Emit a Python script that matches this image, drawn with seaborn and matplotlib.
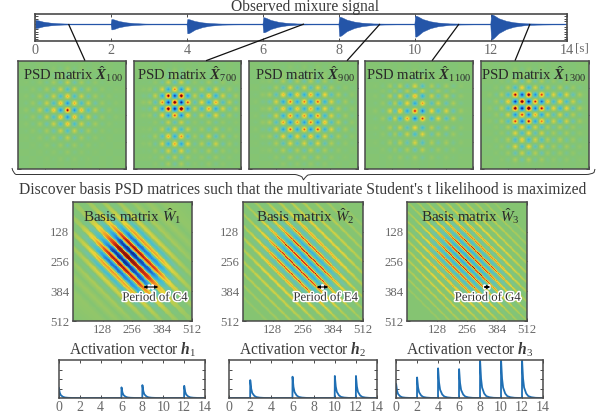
import numpy as np
import pandas as pd
import matplotlib
matplotlib.use("Agg")
import matplotlib.pyplot as plt
import matplotlib.patheffects as pe
from matplotlib.colors import LinearSegmentedColormap
from matplotlib.path import Path
from matplotlib.patches import PathPatch
import seaborn as sns

# ---------- data ----------
wave_onsets = [0, 2, 4, 6, 8, 10, 12]
wave_up = [0.39, 0.48, 0.48, 0.65, 0.70, 0.80, 0.93]
wave_down = [0.39, 0.52, 0.90, 0.80, 1.16, 1.22, 1.48]
wave_decay_t = [0, 0.03, 0.08, 0.2, 0.4, 0.6, 0.9, 1.2, 1.6, 1.98]
wave_decay_v = [1.0, 1.0, 0.9, 0.6, 0.33, 0.18, 0.07, 0.04, 0.02, 0.015]
wave_ticks = [-1.5, -1.25, -1.0, -0.75, -0.5, -0.25, 0.25, 0.5, 0.75]
time_ticks = [0, 2, 4, 6, 8, 10, 12, 14]

x100_pos = [0.073, 0.137, 0.201, 0.265, 0.329, 0.393, 0.457, 0.521, 0.585, 0.649, 0.713, 0.777, 0.841, 0.905]
x100_amp = [-0.06, 0.11, -0.2, 0.31, -0.44, 0.62, -0.84, 0.62, -0.44, 0.31, -0.2, 0.11, -0.06, 0.04]
x700_pos = [0.09, 0.15, 0.20, 0.265, 0.325, 0.385, 0.445, 0.505, 0.57, 0.635, 0.70, 0.765, 0.83, 0.89, 0.95]
x700_amp = [0.05, 0.1, -0.2, 0.5, -0.88, 0.95, -1.0, 0.6, -0.2, 0.3, -0.45, 0.45, -0.25, 0.15, -0.1]
x900_pos = [0.06, 0.125, 0.19, 0.25, 0.315, 0.38, 0.445, 0.51, 0.57, 0.635, 0.70, 0.76, 0.825, 0.89, 0.95]
x900_amp = [0.03, -0.07, -0.18, 0.32, -0.6, 0.72, -0.6, 0.68, -0.72, 0.76, -0.52, 0.34, -0.2, 0.12, -0.06]
x1100_pos = [0.1, 0.17, 0.235, 0.28, 0.327, 0.394, 0.465, 0.535, 0.62, 0.68, 0.755, 0.82, 0.89]
x1100_amp = [-0.05, 0.1, -0.3, 0.25, -0.5, 0.55, -0.8, 0.75, -0.4, 0.35, -0.3, 0.2, -0.1]
x1300_pos = [0.08, 0.14, 0.19, 0.25, 0.315, 0.378, 0.44, 0.50, 0.56, 0.615, 0.67, 0.73, 0.79, 0.85, 0.91]
x1300_amp = [-0.04, 0.08, -0.15, 0.35, -0.85, 0.95, -1.0, 0.65, -0.7, 0.35, -0.3, 0.35, -0.3, 0.2, -0.12]

w1_along_pos = [0, 64, 128, 192, 240, 320, 384, 448, 512]
w1_along_val = [0.05, 0.15, 0.5, 0.95, 1.0, 0.85, 0.42, 0.15, 0.05]
w1_d = [0, 10, 22, 32, 42, 54, 64, 74, 86, 96, 106, 118, 128, 138, 150, 160, 170, 182, 192, 202, 214, 224, 234, 246, 256, 288, 320, 352, 384, 512]
w1_v = [1.0, 0.9, -0.6, -1.0, -0.9, 0.55, 0.95, 0.8, -0.35, -0.7, -0.6, 0.2, 0.62, 0.5, -0.1, -0.32, -0.2, 0.08, 0.32, 0.25, 0.0, -0.06, -0.04, 0.04, 0.16, 0.0, 0.1, 0.0, 0.06, 0.0]

w2_along_pos = [0, 64, 128, 192, 250, 320, 384, 448, 512]
w2_along_val = [0.1, 0.22, 0.55, 0.95, 1.0, 0.92, 0.55, 0.22, 0.1]
w2_d = [0, 12, 25, 38, 51, 63, 76, 89, 102, 114, 127, 140, 153, 166, 178, 191, 204, 216, 229, 242, 255, 267, 281, 294, 306, 318, 345, 357, 369, 396, 408, 420, 512]
w2_v = [1.0, -0.14, -0.5, -0.14, 0.95, -0.12, -0.42, -0.08, 0.82, -0.05, -0.22, 0.0, 0.6, 0.0, -0.05, 0.0, 0.44, 0.0, -0.02, 0.0, 0.32, 0.0, 0.0, 0.0, 0.22, 0.0, 0.0, 0.14, 0.0, 0.0, 0.08, 0.0, 0.0]

w3_along_pos = [0, 64, 128, 192, 245, 320, 384, 448, 512]
w3_along_val = [0.1, 0.22, 0.55, 0.95, 1.0, 0.92, 0.55, 0.22, 0.1]
w3_d = [0, 10, 20, 31, 41, 51, 61, 72, 82, 92, 102, 113, 123, 133, 143, 154, 164, 174, 184, 195, 205, 215, 236, 246, 256, 277, 287, 297, 318, 328, 338, 359, 369, 379, 512]
w3_v = [1.0, -0.12, -0.44, -0.12, 0.95, -0.1, -0.4, -0.08, 0.88, -0.06, -0.3, -0.03, 0.74, 0.0, -0.12, 0.0, 0.56, 0.0, -0.04, 0.0, 0.44, 0.0, 0.0, 0.32, 0.0, 0.0, 0.24, 0.0, 0.0, 0.16, 0.0, 0.0, 0.1, 0.0, 0.0]

h_decay_t = [0, 0.01, 0.1, 0.2, 0.4, 0.6, 0.9, 1.3, 1.9]
h_decay_v = [0, 1.0, 0.52, 0.28, 0.12, 0.05, 0.02, 0.005, 0.0]
h1_onsets = [0, 6, 8, 12]
h1_peaks = [0.27, 0.28, 0.34, 0.32]
h2_onsets = [2, 6, 10, 12]
h2_peaks = [0.47, 0.56, 0.58, 0.58]
h3_onsets = [0, 2, 4, 6, 8, 10, 12]
h3_peaks = [0.37, 0.54, 0.78, 0.76, 0.98, 0.98, 0.98]
matrix_ticks = [128, 256, 384, 512]

# ---------- style ----------
sns.set_theme(style="white")
plt.rcParams["font.family"] = ["Liberation Serif", "DejaVu Serif"]
plt.rcParams.update({
    "mathtext.fontset": "custom",
    "mathtext.rm": "Liberation Serif",
    "mathtext.it": "Liberation Serif:italic",
    "mathtext.bf": "Liberation Serif:bold",
    "mathtext.bfit": "Liberation Serif:italic:bold",
})
W, H = 602, 419
fig = plt.figure(figsize=(W / 100, H / 100), dpi=100)
TXT = "#3a3a3a"
TICK = "#6a6a6a"
EDGE = "#4a4a4a"
cmap = LinearSegmentedColormap.from_list("psd", [
    (0.000, "#0a2a90"), (0.125, "#1a5cc8"), (0.250, "#2f9fe0"), (0.350, "#45bfd0"),
    (0.450, "#74c3a0"), (0.500, "#84c473"), (0.600, "#b8cc50"), (0.700, "#ecd43a"),
    (0.800, "#f09a28"), (0.900, "#e03a18"), (1.000, "#7a0a0a")])


def box(x0, y0, x1, y1):
    return fig.add_axes([x0 / W, 1 - y1 / H, (x1 - x0) / W, (y1 - y0) / H])


def frame(ax, lw=1.1, size=9.2):
    for s in ax.spines.values():
        s.set_visible(True)
        s.set_color(EDGE)
        s.set_linewidth(lw)
    ax.tick_params(direction="in", top=True, right=True, bottom=True, left=True,
                   length=2.2, width=0.7, color=EDGE, labelcolor=TICK, labelsize=size, pad=2.5)


def draw_matrix(ax, data, labelled):
    sns.heatmap(data, ax=ax, cmap=cmap, vmin=-1, vmax=1, cbar=False,
                xticklabels=False, yticklabels=False, rasterized=True)
    n = data.shape[0]
    ticks = [t / 512 * n for t in matrix_ticks]
    frame(ax)
    ax.set_xticks(ticks)
    ax.set_yticks(ticks)
    if labelled:
        ax.set_xticklabels(matrix_ticks, rotation=0)
        ax.set_yticklabels(matrix_ticks, rotation=0)
    else:
        ax.set_xticklabels([])
        ax.set_yticklabels([])


# ---------- waveform ----------
ax = box(35.4, 13.7, 567, 41)
rows = []
for on, up, dn in zip(wave_onsets, wave_up, wave_down):
    for dt, f in zip(wave_decay_t, wave_decay_v):
        rows.append((on + dt, up * f, -dn * f))
wave = pd.DataFrame(rows, columns=["t", "up", "down"])
BLUE = "#2455a8"
ax.fill_between(wave["t"], wave["down"], wave["up"], color=BLUE, lw=0.3)
sns.lineplot(x=[0, 14], y=[0, 0], ax=ax, color=BLUE, lw=0.9)
ax.set_xlim(0, 14)
ax.set_ylim(-1.65, 1.0)
frame(ax, 1.2, 10.2)
ax.set_xticks(time_ticks)
ax.set_xticklabels([str(t) for t in time_ticks])
ax.set_yticks(wave_ticks)
ax.set_yticklabels([])
ax.set_ylabel("")

# ---------- PSD matrices ----------
psd_boxes = [(18, 61, 126, 169), (133.7, 61, 241, 169), (249, 61, 357.5, 169),
             (364.5, 61, 473, 169), (481, 61, 589, 169)]
psd_sets = [(x100_pos, x100_amp), (x700_pos, x700_amp), (x900_pos, x900_amp),
            (x1100_pos, x1100_amp), (x1300_pos, x1300_amp)]
grid = (np.arange(216) + 0.5) / 216
DOT = 0.032        # half-width of a lattice dot, as a share of the panel
for b, (pos, amp) in zip(psd_boxes, psd_sets):
    wide = np.interp(grid, [0.0] + pos + [1.0], [0.0] + amp + [0.0])
    narrow = sum(a * np.clip(1 - np.abs(grid - p) / DOT, 0, 1) for p, a in zip(pos, amp))
    v = 1.0 * narrow + 0.25 * wide
    m = np.outer(v, v)
    ax = box(*b)
    draw_matrix(ax, np.clip(np.where(m < 0, 0.75 * m, m), -1, 1), False)

# ---------- basis matrices ----------
w_boxes = [(72.7, 201.7, 192, 321), (242.7, 201.7, 363, 321), (407, 201.7, 527, 321)]
w_sets = [(w1_along_pos, w1_along_val, w1_d, w1_v),
          (w2_along_pos, w2_along_val, w2_d, w2_v),
          (w3_along_pos, w3_along_val, w3_d, w3_v)]
cells = (np.arange(256) + 0.5) * 2
I, J = np.meshgrid(cells, cells, indexing="ij")
for b, (ap, av, dp, dv) in zip(w_boxes, w_sets):
    ax = box(*b)
    along = np.interp((I + J) / 2, ap, av)
    across = np.interp(np.abs(I - J), dp, dv)
    draw_matrix(ax, np.where(across < 0, along ** 2, along) * across, True)

# ---------- activations ----------
h_boxes = [(58.7, 360, 205, 398), (229, 360, 377, 398), (396, 360, 543, 398)]
h_sets = [(h1_onsets, h1_peaks), (h2_onsets, h2_peaks), (h3_onsets, h3_peaks)]
for b, (ons, pks) in zip(h_boxes, h_sets):
    ax = box(*b)
    ts, vs = [0.0], [0.0]
    for on, pk in zip(ons, pks):
        for dt, f in zip(h_decay_t, h_decay_v):
            ts.append(on + dt)
            vs.append(pk * f)
    ts.append(14.0)
    vs.append(0.0)
    df = pd.DataFrame({"t": ts, "h": vs})
    sns.lineplot(data=df, x="t", y="h", ax=ax, color="#1f6fb4", lw=1.3,
                 estimator=None, sort=False)
    ax.set_xlim(0, 14)
    ax.set_ylim(0, 1)
    frame(ax, 1.1, 10.0)
    ax.set_xticks(time_ticks)
    ax.set_xticklabels([str(t) for t in time_ticks])
    ax.set_yticks([0.25, 0.5, 0.75])
    ax.set_yticklabels([])
    ax.set_xlabel("")
    ax.set_ylabel("")

# ---------- overlay in picture pixels ----------
ov = fig.add_axes([0, 0, 1, 1], zorder=10)
ov.set_xlim(0, W)
ov.set_ylim(H, 0)
ov.axis("off")
ov.patch.set_alpha(0)

for (x0, y0, x1, y1) in [(68.5, 24, 85, 60.7), (304, 24, 206, 60.7), (380, 24, 347, 60.7),
                         (459, 24, 432, 60.7), (530, 24, 515, 60.7)]:
    ov.plot([x0, x1], [y0, y1], color="#111111", lw=0.9, solid_capstyle="butt")

ov.text(305, 6.6, "Observed mixure signal", ha="center", va="center", fontsize=11.2, color=TXT)
ov.text(574.6, 48.6, "[s]", ha="left", va="center", fontsize=9.6, color=TICK)

psd_titles = [(73, 100), (187, 700), (304.5, 900), (419, 1100), (534, 1300)]
for x, n in psd_titles:
    ov.text(x, 74, r"PSD matrix $\hat{\mathbfit{X}}_{%d}$" % n, ha="center", va="center",
            fontsize=10.6, color="#2a2a2a")

for x, n in [(132.7, 1), (305.7, 2), (470.7, 3)]:
    ov.text(x, 216, r"Basis matrix $\hat{\mathit{W}}_{%d}$" % n, ha="center", va="center",
            fontsize=10.8, color="#2a2a2a")

for x, n in [(133, 1), (303, 2), (470, 3)]:
    ov.text(x, 350, r"Activation vector $\mathbfit{h}_{%d}$" % n, ha="center", va="center",
            fontsize=11.2, color=TXT)

ov.text(303, 190, "Discover basis PSD matrices such that the multivariate Student's t likelihood is maximized",
        ha="center", va="center", fontsize=11.24, color=TXT)

halo = [pe.withStroke(linewidth=2.2, foreground="white")]
period = [(143.3, 158.3, 155, "C4"), (316.7, 328.3, 325.7, "E4"), (483.3, 490.3, 487.7, "G4")]
for x0, x1, xt, note in period:
    ov.annotate("", xy=(x0, 287), xytext=(x1, 287),
                arrowprops=dict(arrowstyle="<|-|>", color="white", lw=2.0, mutation_scale=5, shrinkA=0, shrinkB=0))
    ov.annotate("", xy=(x0, 287), xytext=(x1, 287),
                arrowprops=dict(arrowstyle="<|-|>", color="black", lw=0.8, mutation_scale=4.5, shrinkA=0, shrinkB=0))
    ov.text(xt, 297.7, "Period of " + note, ha="center", va="center", fontsize=9.2,
            color="#333333", path_effects=halo)

brace = Path([(12, 168), (13, 173), (16, 174.5), (22, 174.5), (295, 174.5),
              (299, 175), (302, 177), (303.5, 180), (305, 177), (308, 175), (312, 174.5),
              (586, 174.5), (591, 174.5), (594, 172.5), (595, 169)],
             [Path.MOVETO, Path.CURVE3, Path.CURVE3, Path.LINETO, Path.LINETO,
              Path.CURVE3, Path.CURVE3, Path.LINETO, Path.CURVE3, Path.CURVE3, Path.LINETO,
              Path.LINETO, Path.CURVE3, Path.CURVE3, Path.LINETO])
ov.add_patch(PathPatch(brace, fill=False, edgecolor="#333333", lw=0.7))

fig.savefig("out.png", dpi=100)
